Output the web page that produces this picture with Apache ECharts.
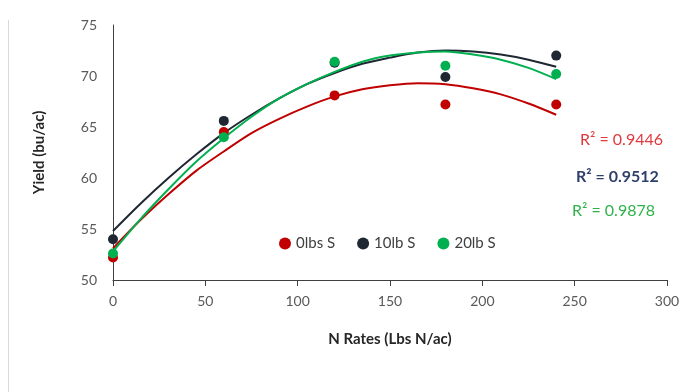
<!DOCTYPE html>
<html>
<head>
<meta charset="utf-8">
<script src="https://cdn.jsdelivr.net/npm/echarts@6/dist/echarts.min.js"></script>
<style>
html,body{margin:0;padding:0;background:#fff;}
#chart{width:685px;height:392px;}
</style>
</head>
<body>
<div id="chart"></div>
<script>
// N rates (x)
var nRates = [0, 60, 120, 180, 240];
// observed yields
var yield0 = [52.2, 64.5, 68.1, 67.2, 67.2];
var yield10 = [54.0, 65.6, 71.3, 69.9, 72.0];
var yield20 = [52.6, 64.0, 71.4, 71.0, 70.2];
// trend curves (every 15 lbs)
var trendX = [0, 15, 30, 45, 60, 75, 90, 105, 120, 135, 150, 165, 180, 195, 210, 225, 240];
var trend0 = [53.1, 55.9, 58.4, 60.7, 62.6, 64.4, 65.8, 67.0, 68.0, 68.7, 69.1, 69.3, 69.2, 68.8, 68.2, 67.3, 66.2];
var trend10 = [54.8, 57.5, 60.0, 62.3, 64.4, 66.2, 67.8, 69.2, 70.3, 71.2, 71.8, 72.3, 72.5, 72.4, 72.1, 71.6, 70.9];
var trend20 = [52.8, 56.0, 58.9, 61.6, 63.9, 66.0, 67.8, 69.2, 70.4, 71.4, 72.0, 72.3, 72.4, 72.1, 71.6, 70.8, 69.7];
var names = ['0lbs S', '10lb S', '20lb S'];
var colors = ['#c00000', '#1f2733', '#00b050'];
var r2Text = ['R² = 0.9446', 'R² = 0.9512', 'R² = 0.9878'];

function pairs(xs, ys){
	return xs.map((v,i)=>[v, ys[i]]);
}

var myChart = echarts.init(document.getElementById('chart'));
var font = 'Lato, "Open Sans", sans-serif';
var obs = [yield0, yield10, yield20];
var trends = [trend0, trend10, trend20];

var series = [];
// trend lines first so points draw on top
trends.forEach(function(t, i){
	series.push({
		name: names[i] + ' trend',
		type: 'line',
		data: pairs(trendX, t),
		smooth: 0.3,
		showSymbol: false,
		silent: true,
		lineStyle: {color: colors[i], width: 2},
		z: 2
	});
});
obs.forEach(function(d, i){
	series.push({
		name: names[i],
		type: 'scatter',
		data: pairs(nRates, d),
		symbolSize: 10,
		itemStyle: {color: colors[i], opacity: 1},
		z: 3
	});
});

var option = {
	animation: false,
	grid: {left: 113, right: 18, top: 25, bottom: 112},
	legend: {
		data: names,
		left: 274, top: 231,
		icon: 'circle',
		itemWidth: 12, itemHeight: 12,
		itemGap: 22,
		textStyle: {fontFamily: font, fontSize: 15, color: '#404040'}
	},
	xAxis: {
		type: 'value',
		min: 0, max: 300, interval: 50,
		name: 'N Rates (Lbs N/ac)',
		nameLocation: 'middle',
		nameGap: 52,
		nameTextStyle: {fontFamily: font, fontSize: 15, fontWeight: 'bold', color: '#262626'},
		axisLine: {lineStyle: {color: '#404040', width: 1}},
		axisTick: {show: true, length: 6, lineStyle: {color: '#404040'}},
		axisLabel: {fontFamily: font, fontSize: 14, color: '#595959', margin: 14},
		splitLine: {show: false}
	},
	yAxis: {
		type: 'value',
		min: 50, max: 75, interval: 5,
		name: 'Yield (bu/ac)',
		nameLocation: 'middle',
		nameGap: 66,
		nameRotate: 90,
		nameTextStyle: {fontFamily: font, fontSize: 15, fontWeight: 'bold', color: '#262626'},
		axisLine: {show: true, lineStyle: {color: '#404040', width: 1}},
		axisTick: {show: false},
		axisLabel: {fontFamily: font, fontSize: 14, color: '#595959', margin: 16},
		splitLine: {show: false}
	},
	graphic: [
		{type: 'line', shape: {x1: 8.5, y1: 20, x2: 8.5, y2: 392}, style: {stroke: '#d9d9d9', lineWidth: 1}},
		{type: 'text', left: 580, top: 132, style: {text: r2Text[0], fill: '#e0393e', font: '16px ' + font}},
		{type: 'text', left: 576, top: 169, style: {text: r2Text[1], fill: '#2f3f6b', font: 'bold 16px ' + font}},
		{type: 'text', left: 572, top: 203, style: {text: r2Text[2], fill: '#2db34a', font: '16px ' + font}}
	],
	series: series
};
myChart.setOption(option);
</script>
</body>
</html>
